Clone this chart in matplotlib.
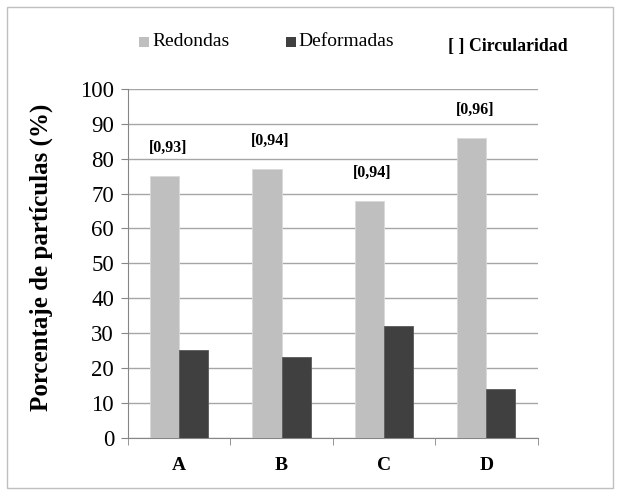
import numpy as np
import matplotlib.pyplot as plt
from matplotlib.patches import Rectangle

plt.rcParams['font.family'] = ['Liberation Serif', 'DejaVu Serif']

categorias = ['A', 'B', 'C', 'D']
redondas = [75, 77, 68, 86]
deformadas = [25, 23, 32, 14]
circularidad = ['[0,93]', '[0,94]', '[0,94]', '[0,96]']

W, H = 620, 496
fig = plt.figure(figsize=(6.2, 4.96), dpi=100)
ax = fig.add_axes([128 / W, 1 - 437.5 / H, (537.5 - 128) / W, (437.5 - 89) / H])

x = np.arange(len(categorias))
w = 0.285
ax.bar(x - w / 2, redondas, w, color='#bfbfbf', edgecolor='#d9d9d9', linewidth=0.6, zorder=3)
ax.bar(x + w / 2, deformadas, w, color='#404040', edgecolor='#595959', linewidth=0.6, zorder=3)

for xi, v, t in zip(x, redondas, circularidad):
    ax.text(xi - w / 2 + 0.03, v + 8, t, ha='center', va='center', fontsize=11.5, fontweight='bold')

ax.set_xlim(-0.5, len(categorias) - 0.5)
ax.set_ylim(0, 100)
ax.set_yticks(range(0, 101, 10))
ax.tick_params(axis='y', labelsize=16.5, length=5, color='#868686', pad=5)
ax.set_xticks(x)
ax.set_xticklabels(categorias, fontsize=14, fontweight='bold')
ax.tick_params(axis='x', length=0, pad=14)
ax.set_xticks(np.arange(-0.5, len(categorias), 1), minor=True)
ax.tick_params(axis='x', which='minor', length=5, color='#868686')
ax.grid(axis='y', color='#a6a6a6', linewidth=1, zorder=0)
for s in ['top', 'right']:
    ax.spines[s].set_visible(False)
for s in ['left', 'bottom']:
    ax.spines[s].set_color('#868686')
ax.set_ylabel('Porcentaje de partículas (%)', fontsize=18, fontweight='bold')
ax.yaxis.set_label_coords((53 - 128) / (537.5 - 128), (437.5 - 257.5) / (437.5 - 89))

# leyenda en la parte superior
def cuadro(x0, color):
    fig.patches.append(Rectangle((x0 / W, 1 - 47 / H), 10 / W, 10 / H, transform=fig.transFigure,
                                 facecolor=color, edgecolor='none'))

cuadro(139, '#bfbfbf')
fig.text(152 / W, 1 - 41 / H, 'Redondas', fontsize=14, va='center')
cuadro(286, '#404040')
fig.text(298 / W, 1 - 41 / H, 'Deformadas', fontsize=14, va='center')
fig.text(448 / W, 1 - 46 / H, '[ ] Circularidad', fontsize=12.8, fontweight='bold', va='center')

fig.patches.append(Rectangle((7 / W, 8 / H), 606 / W, 481 / H, transform=fig.transFigure,
                             fill=False, edgecolor='#bfbfbf', linewidth=1))

fig.savefig('out.png', dpi=100)
